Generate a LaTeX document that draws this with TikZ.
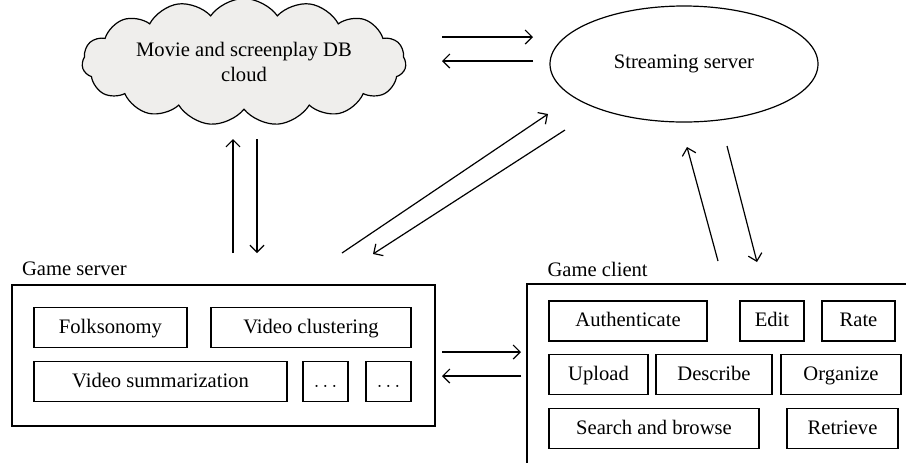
\documentclass[tikz,border=0pt]{standalone}
\usepackage{fontspec}
\setmainfont{Liberation Serif}
\usepackage{tikz}
\usetikzlibrary{arrows.meta,positioning,shapes.symbols,shapes.geometric}
\definecolor{cloudgray}{RGB}{239,238,236}

\begin{document}
\begin{tikzpicture}[
  x=0.5pt, y=-0.5pt,
  font=\fontsize{10.3}{12.4}\selectfont,
  line width=0.6pt,
  cell/.style={draw, rectangle, minimum height=20pt, inner sep=2pt,
               text height=7.4pt, text depth=1.6pt},
  frame/.style={draw, rectangle, inner sep=0pt},
  lbl/.style={inner sep=0pt},
  flow/.style={-{Straight Barb[length=3.5pt, width=7pt]}}
]
  \clip (0,0) rectangle (906,462);

  % top row: cloud and streaming server
  \node[cloud, draw, fill=cloudgray, cloud puffs=15, cloud puff arc=110,
        aspect=3.4, align=center, inner sep=2.8pt] (db) at (244,62)
        {Movie and screenplay DB\\cloud};
  \node[ellipse, draw, minimum width=134pt, minimum height=58pt] (stream) at (684,64) {Streaming server};

  % game server (left)
  \node[frame, minimum width=211.5pt, minimum height=70.5pt] (gserver) at (223.5,355.5) {};
  \node[lbl, above right=4pt and 5pt of gserver.north west] (gserverlbl) {Game server};
  \node[cell, minimum width=76.5pt] (folk) at (110.5,327.5) {Folksonomy};
  \node[cell, minimum width=100pt] (vclust) at (311,327.5) {Video clustering};
  \node[cell, minimum width=126.5pt] (vsumm) at (160.5,381.5) {Video summarization};
  \node[cell, minimum width=22.5pt] (more1) at (325.5,381.5) {$\ldots$};
  \node[cell, minimum width=22.5pt] (more2) at (388.5,381.5) {$\ldots$};

  % game client (right, runs off the page)
  \draw (527,480) |- (930,284);
  \coordinate (gclient) at (527,284);
  \node[lbl, above right=3.5pt and 10pt of gclient] (gclientlbl) {Game client};
  \node[cell, minimum width=79pt] (auth) at (628,321) {Authenticate};
  \node[cell, minimum width=32pt] (edit) at (772,321) {Edit};
  \node[cell, minimum width=36.5pt] (rate) at (858.5,321) {Rate};
  \node[cell, minimum width=49.5pt] (upload) at (598.5,374.5) {Upload};
  \node[cell, minimum width=58pt] (describe) at (714,374.5) {Describe};
  \node[cell, minimum width=60pt] (organize) at (841,374.5) {Organize};
  \node[cell, minimum width=105pt] (search) at (654,428.5) {Search and browse};
  \node[cell, minimum width=55.5pt] (retrieve) at (842.5,428.5) {Retrieve};

  % arrow ends
  \coordinate (dbout) at (442,37);  \coordinate (stin) at (533,37);
  \coordinate (stout) at (533,61);  \coordinate (dbin) at (442,61);
  \coordinate (gsup) at (233,253);  \coordinate (dbdn) at (233,139);
  \coordinate (dbup) at (257,139);  \coordinate (gsdn) at (257,253);
  \coordinate (gsdg) at (342,253);  \coordinate (stdg) at (548,114);
  \coordinate (stdg2) at (565,130); \coordinate (gsdg2) at (373,254);
  \coordinate (gcup) at (718,261);  \coordinate (stup) at (687,147);
  \coordinate (stdn) at (727,146);  \coordinate (gcdn) at (757,262);
  \coordinate (gsr) at (442,352);   \coordinate (gcl) at (521,352);
  \coordinate (gcl2) at (521,376);  \coordinate (gsr2) at (442,376);

  \draw[flow] (dbout) -- (stin);
  \draw[flow] (stout) -- (dbin);
  \draw[flow] (gsup) -- (dbdn);
  \draw[flow] (dbup) -- (gsdn);
  \draw[flow] (gsdg) -- (stdg);
  \draw[flow] (stdg2) -- (gsdg2);
  \draw[flow] (gcup) -- (stup);
  \draw[flow] (stdn) -- (gcdn);
  \draw[flow] (gsr) -- (gcl);
  \draw[flow] (gcl2) -- (gsr2);
\end{tikzpicture}
\end{document}
